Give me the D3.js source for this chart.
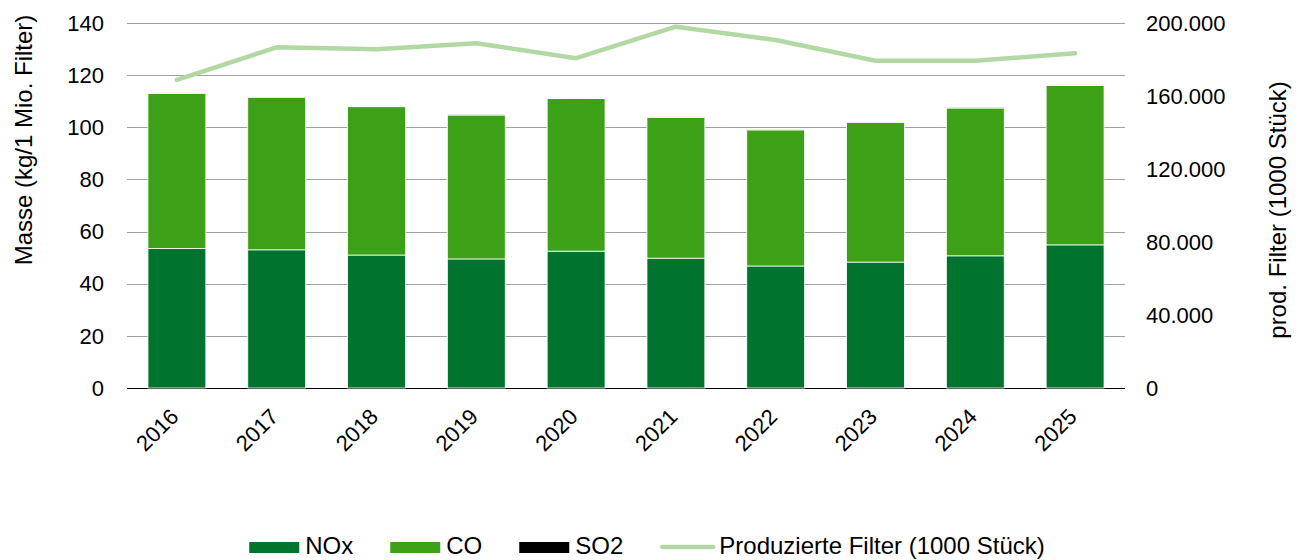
<!DOCTYPE html>
<html>
<head>
<meta charset="utf-8">
<script src="https://cdn.jsdelivr.net/npm/d3@7"></script>
<style>
  body { margin: 0; background: #fff; }
  text { font-family: "Liberation Sans", Arial, sans-serif; fill: #000; }
</style>
</head>
<body>
<svg width="1304" height="560"></svg>
<script>
// data
const years = ["2016", "2017", "2018", "2019", "2020", "2021", "2022", "2023", "2024", "2025"];
const nox = [53.5, 53.0, 51.0, 49.5, 52.5, 49.8, 46.8, 48.3, 50.7, 54.9];
const co  = [59.5, 58.5, 56.9, 55.2, 58.5, 54.0, 52.2, 53.5, 56.7, 61.1];
const so2 = [0.1, 0.1, 0.1, 0.1, 0.1, 0.1, 0.1, 0.1, 0.1, 0.1];
const filters = [168800, 186700, 185600, 188900, 180700, 198000, 190700, 179300, 179300, 183400];
const leftTicks = [0, 20, 40, 60, 80, 100, 120, 140];
const rightTicks = [0, 40000, 80000, 120000, 160000, 200000];
const seriesNames = ["NOx", "CO", "SO2", "Produzierte Filter (1000 Stück)"];

const colors = { NOx: "#00732f", CO: "#3ca116", SO2: "#000000", line: "#b2d9a3" };

const svg = d3.select("svg");
const plotLeft = 127, plotRight = 1125, plotTop = 23, plotBottom = 388;

const x = d3.scaleBand().domain(years).range([plotLeft, plotRight])
            .paddingInner(0.42).paddingOuter(0.21);
const y = d3.scaleLinear().domain([0, 140]).range([plotBottom, plotTop]);
const y2 = d3.scaleLinear().domain([0, 200000]).range([plotBottom, plotTop]);

const de = d3.formatLocale({ decimal: ",", thousands: ".", grouping: [3], currency: ["", " €"] });
const fmt = de.format(",.0f");

// gridlines
svg.append("g").selectAll("line")
   .data(leftTicks)
   .join("line")
   .attr("x1", plotLeft).attr("x2", plotRight)
   .attr("y1", d => Math.round(y(d)) + 0.5).attr("y2", d => Math.round(y(d)) + 0.5)
   .attr("stroke", d => d === 0 ? "#000" : "#a0a0a0")
   .attr("stroke-width", 1);

// left axis labels
svg.append("g").selectAll("text")
   .data(leftTicks)
   .join("text")
   .attr("x", 104).attr("y", d => y(d))
   .attr("dy", "0.35em")
   .attr("text-anchor", "end")
   .style("font-size", "22px")
   .text(d => d);

// right axis labels
svg.append("g").selectAll("text")
   .data(rightTicks)
   .join("text")
   .attr("x", 1146).attr("y", d => y2(d))
   .attr("dy", "0.35em")
   .style("font-size", "22px")
   .text(d => fmt(d));

// stacked bars
const rows = years.map((yr, i) => ({ year: yr, NOx: nox[i], CO: co[i], SO2: so2[i] }));
const stack = d3.stack().keys(["NOx", "CO", "SO2"])(rows);

svg.append("g").selectAll("g")
   .data(stack)
   .join("g")
   .attr("fill", d => colors[d.key])
   .selectAll("rect")
   .data(d => d)
   .join("rect")
   .attr("x", d => x(d.data.year))
   .attr("width", x.bandwidth())
   .attr("y", d => y(d[1]))
   .attr("height", d => y(d[0]) - y(d[1]))
   .attr("stroke", "#fff")
   .attr("stroke-width", 0.8);

// line
const line = d3.line()
               .x((d, i) => x(years[i]) + x.bandwidth() / 2)
               .y(d => y2(d));

svg.append("path")
   .datum(filters)
   .attr("fill", "none")
   .attr("stroke", colors.line)
   .attr("stroke-width", 4.5)
   .attr("stroke-linecap", "round")
   .attr("stroke-linejoin", "round")
   .attr("d", line);

// x labels
svg.append("g").selectAll("text")
   .data(years)
   .join("text")
   .attr("transform", d => `translate(${x(d) + x.bandwidth() / 2 + 3},418) rotate(-45)`)
   .attr("text-anchor", "end")
   .style("font-size", "22px")
   .text(d => d);

// axis titles
svg.append("text")
   .attr("transform", "translate(32,140) rotate(-90)")
   .attr("text-anchor", "middle")
   .style("font-size", "24px")
   .text("Masse (kg/1 Mio. Filter)");

svg.append("text")
   .attr("transform", "translate(1286,210) rotate(-90)")
   .attr("text-anchor", "middle")
   .style("font-size", "24px")
   .text("prod. Filter (1000 Stück)");

// legend
const legend = svg.append("g");
let lx = 0;
seriesNames.forEach((name, i) => {
  const g = legend.append("g").attr("transform", `translate(${lx},0)`);
  if (i < 3) {
    const key = ["NOx", "CO", "SO2"][i];
    g.append("rect").attr("x", 0).attr("y", -12).attr("width", 50).attr("height", 11)
     .attr("fill", colors[key]);
  } else {
    g.append("line").attr("x1", 2).attr("x2", 53).attr("y1", -7).attr("y2", -7)
     .attr("stroke", colors.line).attr("stroke-width", 4.5).attr("stroke-linecap", "round");
  }
  const t = g.append("text").attr("x", i < 3 ? 56 : 59).attr("y", 0)
             .style("font-size", "24px").text(name);
  lx += (i < 3 ? 56 : 59) + t.node().getComputedTextLength() + 37;
});
const legendWidth = lx - 37;
legend.attr("transform", `translate(${647 - legendWidth / 2},554)`);
</script>
</body>
</html>
